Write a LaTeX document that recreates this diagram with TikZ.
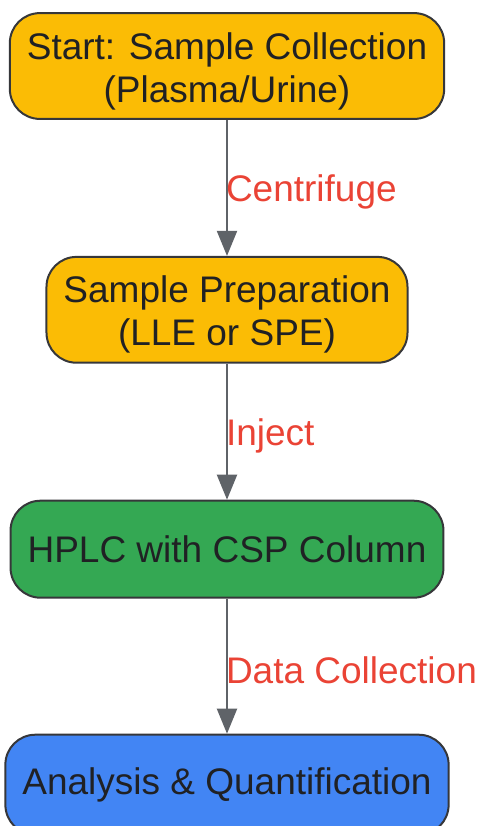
\documentclass[tikz,border=0pt]{standalone}
\usepackage{fontspec}
\setmainfont{Liberation Sans}
\usepackage{tikz}
\usetikzlibrary{positioning, arrows.meta}

\definecolor{stepyellow}{HTML}{FBBC05}
\definecolor{stepgreen}{HTML}{34A853}
\definecolor{stepblue}{HTML}{4285F4}
\definecolor{edgegray}{HTML}{5F6368}
\definecolor{labelred}{HTML}{EA4335}
\definecolor{textdark}{HTML}{202124}

\tikzset{
  stepbox/.style={draw=textdark!90, line width=1pt, rounded corners=15pt,
    align=center, text=textdark, inner xsep=8.5pt, inner ysep=7pt,
    minimum height=48.5pt, font=\fontsize{18.5}{21.5}\selectfont},
  twoline/.style={text height=40pt, text depth=3.9pt, inner ysep=4.5pt},
  flow/.style={draw=edgegray, line width=1pt,
    -{Triangle[width=10pt,length=12.5pt]}, color=edgegray},
  flowlabel/.style={midway, right, inner sep=0pt, xshift=-1pt, yshift=-2pt,
    text=labelred, font=\fontsize{18.5}{21.5}\selectfont}
}

\begin{document}
\begin{tikzpicture}[node distance=68pt]
          \useasboundingbox (0,0) rectangle (238.5pt,-413pt);
          % Steps
          \node[stepbox, twoline, fill=stepyellow] (collect) at (113.5pt,-33pt) {Start: Sample Collection\\(Plasma/Urine)};
          \node[stepbox, twoline, fill=stepyellow, below=of collect] (prep) {Sample Preparation\\(LLE or SPE)};
          \node[stepbox, fill=stepgreen, below=of prep] (hplc) {HPLC with CSP Column};
          \node[stepbox, fill=stepblue, minimum height=50pt, below=67.5pt of hplc] (analysis) {Analysis \& Quantification};
          % Connectors
          \draw[flow] (collect) -- node[flowlabel] {Centrifuge} (prep);
          \draw[flow] (prep) -- node[flowlabel] {Inject} (hplc);
          \draw[flow] (hplc) -- node[flowlabel] {Data Collection} (analysis);
        \end{tikzpicture}
\end{document}
